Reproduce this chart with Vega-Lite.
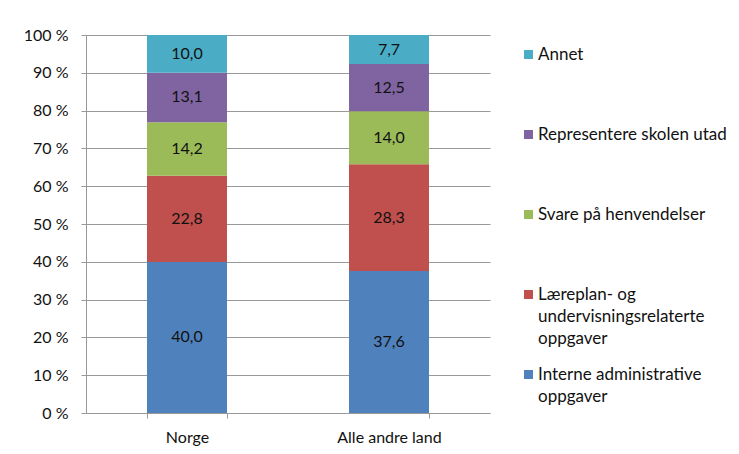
{
  "$schema": "https://vega.github.io/schema/vega-lite/v6.json",
  "width": 404,
  "height": 378,
  "autosize": {"type": "none"},
  "padding": {"left": 86, "top": 35, "right": 249, "bottom": 41},
  "background": "white",
  "data": {
    "values": [
      {"land": "Norge", "kategori": "Interne administrative oppgaver", "rang": 1, "verdi": 40.0},
      {"land": "Norge", "kategori": "Læreplan- og undervisningsrelaterte oppgaver", "rang": 2, "verdi": 22.8},
      {"land": "Norge", "kategori": "Svare på henvendelser", "rang": 3, "verdi": 14.2},
      {"land": "Norge", "kategori": "Representere skolen utad", "rang": 4, "verdi": 13.1},
      {"land": "Norge", "kategori": "Annet", "rang": 5, "verdi": 10.0},
      {"land": "Alle andre land", "kategori": "Interne administrative oppgaver", "rang": 1, "verdi": 37.6},
      {"land": "Alle andre land", "kategori": "Læreplan- og undervisningsrelaterte oppgaver", "rang": 2, "verdi": 28.3},
      {"land": "Alle andre land", "kategori": "Svare på henvendelser", "rang": 3, "verdi": 14.0},
      {"land": "Alle andre land", "kategori": "Representere skolen utad", "rang": 4, "verdi": 12.5},
      {"land": "Alle andre land", "kategori": "Annet", "rang": 5, "verdi": 7.7}
    ]
  },
  "encoding": {
    "x": {
      "field": "land",
      "type": "nominal",
      "sort": ["Norge", "Alle andre land"],
      "scale": {"paddingInner": 0.604, "paddingOuter": 0.302},
      "axis": {
        "title": null,
        "labelAngle": 0,
        "tickBand": "extent",
        "tickSize": 5,
        "labelPadding": 11,
        "domainColor": "#999999",
        "tickColor": "#999999",
        "labelFont": "Lato",
        "labelFontSize": 16,
        "labelColor": "#111111",
        "grid": false
      }
    },
    "y": {
      "field": "verdi",
      "type": "quantitative",
      "stack": "normalize",
      "scale": {"domain": [0, 1], "nice": false},
      "axis": {
        "title": null,
        "values": [0, 0.1, 0.2, 0.3, 0.4, 0.5, 0.6, 0.7, 0.8, 0.9, 1],
        "labelExpr": "format(datum.value * 100, 'd') + ' %'",
        "tickSize": 5,
        "labelPadding": 13,
        "domainColor": "#999999",
        "tickColor": "#999999",
        "gridColor": "#999999",
        "grid": true,
        "labelFont": "Lato",
        "labelFontSize": 16,
        "labelColor": "#111111"
      }
    },
    "order": {"field": "rang", "type": "quantitative"}
  },
  "layer": [
    {
      "mark": {"type": "bar"},
      "encoding": {
        "color": {
          "field": "kategori",
          "type": "nominal",
          "scale": {
            "domain": ["Annet", "Representere skolen utad", "Svare på henvendelser", "Læreplan- og undervisningsrelaterte oppgaver", "Interne administrative oppgaver"],
            "range": ["#4bacc6", "#8064a2", "#9bbb59", "#c0504d", "#4f81bd"]
          },
          "legend": {
            "title": null,
            "orient": "none",
            "legendX": 434,
            "legendY": 11,
            "gridAlign": "all",
            "symbolType": "square",
            "symbolSize": 81,
            "symbolStrokeWidth": 0,
            "symbolOpacity": 1,
            "labelOffset": 1,
            "labelFont": "Lato",
            "labelFontSize": 17,
            "labelColor": "#111111",
            "labelLimit": 300,
            "rowPadding": 18,
            "labelExpr": "datum.label == 'Læreplan- og undervisningsrelaterte oppgaver' ? ['Læreplan- og', 'undervisningsrelaterte', 'oppgaver'] : datum.label == 'Interne administrative oppgaver' ? ['Interne administrative', 'oppgaver'] : datum.label"
          }
        }
      }
    },
    {
      "mark": {"type": "text", "font": "Lato", "fontSize": 16, "color": "#111111"},
      "encoding": {
        "y": {"field": "verdi", "type": "quantitative", "stack": "normalize", "bandPosition": 0.5},
        "detail": {"field": "kategori"},
        "text": {"field": "verdi", "type": "quantitative", "format": ".1f"}
      }
    }
  ],
  "config": {
    "locale": {
      "number": {"decimal": ",", "thousands": " ", "grouping": [3], "currency": ["", " kr"]}
    },
    "style": {"guide-label": {"lineHeight": 22}},
    "view": {"stroke": null}
  }
}
